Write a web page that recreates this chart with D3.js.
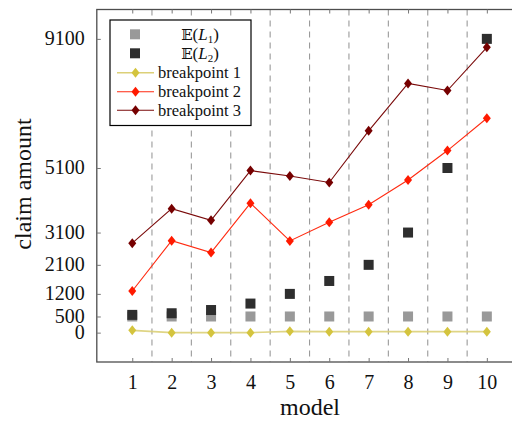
<!DOCTYPE html>
<html>
<head>
<meta charset="utf-8">
<script src="https://cdn.jsdelivr.net/npm/d3@7"></script>
<style>
  html, body { margin: 0; padding: 0; background: #fff; }
  svg { display: block; }
</style>
</head>
<body>
<svg id="chart" width="512" height="421"></svg>
<script>
// ---- data ----
const models = [1, 2, 3, 4, 5, 6, 7, 8, 9, 10];
const expL1 = [500, 500, 500, 500, 500, 500, 500, 500, 500, 500];
const expL2 = [550, 600, 700, 900, 1200, 1600, 2100, 3100, 5100, 9100];
const breakpoint1 = [70, 0, 0, 0, 40, 30, 30, 30, 30, 30];
const breakpoint2 = [1290, 2850, 2480, 4010, 2840, 3420, 3960, 4730, 5640, 6640];
const breakpoint3 = [2770, 3840, 3480, 5020, 4850, 4650, 6250, 7720, 7500, 8840];
const yTickValues = [0, 500, 1200, 2100, 3100, 5100, 9100];
const xTickValues = [1, 2, 3, 4, 5, 6, 7, 8, 9, 10];
const gridValues = [1.5, 2.5, 3.5, 4.5, 5.5, 6.5, 7.5, 8.5, 9.5];

(function () {
const SERIF = "Liberation Serif, Times New Roman, serif";
const svg = d3.select("#chart");
const pL = 96.8, pR = 522.3, pT = 9.5, pB = 362;

const x = d3.scaleLinear().domain([0.1, 10.9]).range([pL, pR]);
const y = d3.scaleLinear().domain([-910, 10010]).range([pB, pT]);

// dashed grid
svg.append("g").selectAll("line").data(gridValues).join("line")
  .attr("x1", d => x(d)).attr("x2", d => x(d))
  .attr("y1", pT).attr("y2", pB)
  .attr("stroke", "#9a9a9a").attr("stroke-width", 1.1)
  .attr("stroke-dasharray", "6,5");

// axes box
svg.append("rect").attr("x", pL).attr("y", pT)
  .attr("width", pR - pL).attr("height", pB - pT)
  .attr("fill", "none").attr("stroke", "#4d4d4d").attr("stroke-width", 1.3);

// y ticks (inside) + labels
const yAxis = d3.axisLeft(y).tickValues(yTickValues).tickSizeInner(-4).tickSizeOuter(0).tickPadding(12).tickFormat(d3.format("d"));
const gy = svg.append("g").attr("transform", `translate(${pL},0)`).call(yAxis)
  .attr("font-family", SERIF).attr("font-size", 20);
gy.select(".domain").remove();
gy.selectAll(".tick line").attr("stroke", "#777");
gy.selectAll(".tick text").attr("fill", "#111").attr("dy", "0.3em");

// x ticks bottom + labels
const xAxis = d3.axisBottom(x).tickValues(xTickValues).tickSizeInner(-4).tickSizeOuter(0).tickPadding(10).tickFormat(d3.format("d"));
const gx = svg.append("g").attr("transform", `translate(0,${pB})`).call(xAxis)
  .attr("font-family", SERIF).attr("font-size", 20);
gx.select(".domain").remove();
gx.selectAll(".tick line").attr("stroke", "#777");
gx.selectAll(".tick text").attr("fill", "#111").attr("dy", "0.85em");

// x ticks top
const gxt = svg.append("g").attr("transform", `translate(0,${pT})`)
  .call(d3.axisTop(x).tickValues(xTickValues).tickSizeInner(-4).tickSizeOuter(0).tickFormat(""));
gxt.select(".domain").remove();
gxt.selectAll(".tick line").attr("stroke", "#777");

// axis labels
svg.append("text").attr("x", 310).attr("y", 415).attr("text-anchor", "middle")
  .attr("font-family", SERIF).attr("font-size", 24).attr("fill", "#111").text("model");
svg.append("text").attr("transform", "translate(31,184) rotate(-90)")
  .attr("text-anchor", "middle").attr("font-family", SERIF).attr("font-size", 24).attr("fill", "#111").text("claim amount");

// squares
const sq = 10;
function squares(vals, color) {
  svg.append("g").selectAll("rect").data(models).join("rect")
    .attr("x", (d, i) => x(d) - sq / 2).attr("y", (d, i) => y(vals[i]) - sq / 2)
    .attr("width", sq).attr("height", sq).attr("fill", color);
}
squares(expL1, "#999999");
squares(expL2, "#2e2e2e");

// lines with diamonds
const diamond = (cx, cy, w, h) => `M${cx},${cy - h / 2}L${cx + w / 2},${cy}L${cx},${cy + h / 2}L${cx - w / 2},${cy}Z`;
function series(vals, lineColor, markColor, lw, lineOpacity) {
  const line = d3.line().x((d, i) => x(models[i])).y(d => y(d));
  svg.append("path").datum(vals).attr("d", line)
    .attr("fill", "none").attr("stroke", lineColor).attr("stroke-width", lw).attr("stroke-opacity", lineOpacity);
  svg.append("g").selectAll("path").data(vals).join("path")
    .attr("d", (d, i) => diamond(x(models[i]), y(d), 8, 10))
    .attr("fill", markColor);
}
series(breakpoint1, "#dcd078", "#d4c43e", 1.6, 0.9);
series(breakpoint2, "#ff2a10", "#ff1a00", 1.1, 1);
series(breakpoint3, "#7a0a0a", "#760000", 1.1, 1);

// legend
const lg = svg.append("g");
lg.append("rect").attr("x", 110).attr("y", 20).attr("width", 141).attr("height", 105.5)
  .attr("fill", "#fff").attr("stroke", "#000").attr("stroke-width", 1.2);
const rowsY = [34.3, 53.3, 72.7, 91.7, 110.3];
[["#999999", "1"], ["#2e2e2e", "2"]].forEach(([c, sub], k) => {
  lg.append("rect").attr("x", 135 - sq / 2).attr("y", rowsY[k] - sq / 2)
    .attr("width", sq).attr("height", sq).attr("fill", c);
  const t = lg.append("text").attr("x", 200).attr("y", rowsY[k] + 5.5).attr("text-anchor", "middle")
    .attr("font-family", SERIF).attr("font-size", 17).attr("fill", "#111");
  t.append("tspan").attr("font-family", "DejaVu Serif, DejaVu Sans, serif").attr("font-size", 15).text("𝔼");
  t.append("tspan").text("(");
  t.append("tspan").attr("font-style", "italic").text("L");
  t.append("tspan").attr("font-size", 11).attr("dy", 3).text(sub);
  t.append("tspan").attr("dy", -3).text(")");
});
const legendSeries = [
  ["breakpoint 1", "#dcd078", "#d4c43e", 1.6],
  ["breakpoint 2", "#ff2a10", "#ff1a00", 1.1],
  ["breakpoint 3", "#7a0a0a", "#760000", 1.1]
];
legendSeries.forEach(([name, lc, mc, lw], k) => {
  const yy = rowsY[k + 2];
  lg.append("line").attr("x1", 117).attr("x2", 154).attr("y1", yy).attr("y2", yy)
    .attr("stroke", lc).attr("stroke-width", lw);
  lg.append("path").attr("d", diamond(135.5, yy, 8, 10)).attr("fill", mc);
  lg.append("text").attr("x", 158).attr("y", yy + 5.5).attr("font-family", SERIF)
    .attr("font-size", 16.5).attr("fill", "#111").text(name);
});
})();
</script>
</body>
</html>
